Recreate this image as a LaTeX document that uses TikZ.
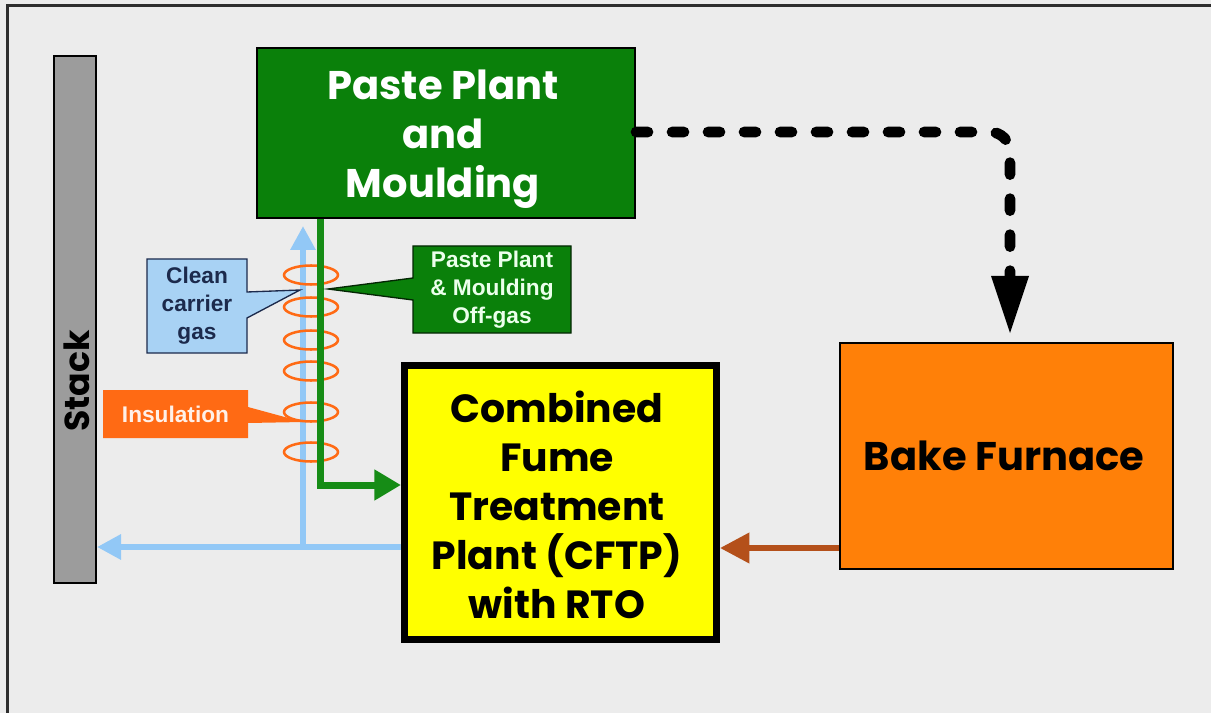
\documentclass[tikz,border=0pt]{standalone}
\usepackage{fontspec}
\setmainfont{Poppins}
\newfontfamily\calfont{Liberation Sans}
\usetikzlibrary{arrows.meta}
\definecolor{bgc}{HTML}{ECECEC}
\definecolor{pgreen}{HTML}{0A800A}
\definecolor{lgreen}{HTML}{168C16}
\definecolor{bakeor}{HTML}{FF8008}
\definecolor{insor}{HTML}{FF6A14}
\definecolor{stackg}{HTML}{9C9C9C}
\definecolor{cyel}{HTML}{FFFF00}
\definecolor{lblue}{HTML}{92C8F6}
\definecolor{cblue}{HTML}{A8D2F4}
\definecolor{navy}{HTML}{1C2A4C}
\definecolor{brownl}{HTML}{B4501A}
\definecolor{frame}{HTML}{2E2E2E}
\tikzset{
  mainbox/.style={draw=black, line width=1.5pt, inner sep=0pt},
  maintext/.style={inner sep=0pt, align=center, font=\bfseries\fontsize{30}{36.75}\selectfont},
  gline/.style={draw=lgreen, line width=5.25pt, -{Triangle[length=20pt,width=22pt]}},
  bline/.style={draw=lblue, line width=4.5pt, -{Triangle[length=18pt,width=18pt]}},
  brline/.style={draw=brownl, line width=4.5pt, -{Triangle[length=22pt,width=22pt]}},
  dline/.style={draw=black, line width=8pt, line cap=round, dash pattern=on 9pt off 18pt,
    rounded corners=15pt},
  callout/.style={line width=1pt, line join=miter},
  caltext/.style={font=\calfont\bfseries\fontsize{17}{21}\selectfont, align=center, inner sep=0pt},
  insring/.style={draw=insor, line width=1.9pt},
}
\begin{document}
\begin{tikzpicture}[x=0.75pt,y=-0.75pt]
\useasboundingbox (0,0) rectangle (1211,713);
\fill[bgc] (0,0) rectangle (1211,713);
\draw[frame, line width=2.5pt] (7.5,713) -- (7.5,5.5) -- (1211,5.5);

% main blocks
\node[mainbox, fill=stackg, minimum width=31.5pt, minimum height=395pt] (stack) at (75,319.5) {};
\node[rotate=90, font=\bfseries\fontsize{26}{30}\selectfont, inner sep=0pt] (stacklabel) at (77,381) {Stack};
\node[mainbox, fill=pgreen, minimum width=283.5pt, minimum height=127.5pt] (paste) at (446,133) {};
\node[maintext, text=white] (pastelabel) at (443,139) {Paste Plant\\and\\Moulding};
\node[mainbox, fill=cyel, line width=5.25pt, minimum width=234pt, minimum height=205.5pt] (cftp) at (560.5,502.5) {};
\node[maintext, font=\bfseries\fontsize{29.5}{36.75}\selectfont] (cftplabel) at (557,505) {Combined\\Fume\\Treatment\\Plant (CFTP)\\with RTO};
\node[mainbox, fill=bakeor, minimum width=249.75pt, minimum height=169.5pt] (bake) at (1006.5,456) {};
\node[maintext] (bakelabel) at (1004,456) {Bake Furnace};

% blue clean carrier gas lines
\coordinate (bx) at (303,547);
\coordinate (btop) at (303,226);
\draw[bline] (cftp.west |- bx) -- (stack.east |- bx);
\draw[bline] (bx) -- (btop);

% insulation rings
\foreach \yy in {275,307,340,371,412,452} {
  \draw[insring] (311,\yy) ellipse [x radius=27, y radius=9.5];
}

% green off-gas line
\coordinate (gx) at (320,485);
\draw[gline] (paste.south -| gx) -- (gx) -- (cftp.west |- gx);

% callouts
\path[callout, fill=pgreen, draw=black!70!pgreen] (413,246) -- (571,246) -- (571,333) -- (413,333) -- (413,300) -- (328,289) -- (413,278) -- cycle;
\node[caltext, text=white!92!green] (offgas) at (492,289.5) {Paste Plant\\\& Moulding\\Off-gas};
\path[callout, fill=cblue, draw=navy] (147,259) -- (247,259) -- (247,292) -- (300,290) -- (247,318) -- (247,353) -- (147,353) -- cycle;
\node[caltext, text=navy] (cleangas) at (197,306) {Clean\\carrier\\gas};
\path[fill=insor] (103,390) -- (248,390) -- (248,407) -- (303,422) -- (248,423) -- (248,438) -- (103,438) -- cycle;
\node[caltext, text=white!90!insor] (insul) at (175.5,414) {Insulation};

% brown bake furnace line
\coordinate (br) at (0,548);
\draw[brline] (bake.west |- br) -- (cftp.east |- br);

% dashed paste -> bake
\coordinate (d1) at (1010,132);
\coordinate (dend) at (1010,295);
\coordinate (dtip) at (1010,333);
\draw[dline] (paste.east |- d1) -- (d1) -- (dend);
\fill[black] (dtip) -- (991,276) -- (1029,276) -- cycle;
\end{tikzpicture}
\end{document}
